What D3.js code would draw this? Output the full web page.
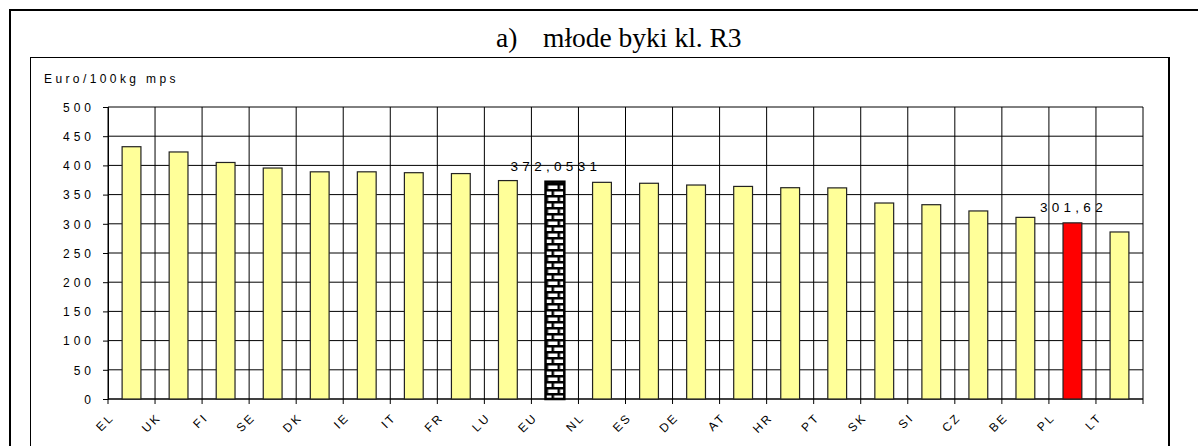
<!DOCTYPE html>
<html>
<head>
<meta charset="utf-8">
<script src="https://cdn.jsdelivr.net/npm/d3@7"></script>
<style>
  html, body { margin: 0; padding: 0; background: #fff; }
  svg { display: block; }
</style>
</head>
<body>
<svg id="chart" width="1198" height="446"></svg>
<script>
// ---- data ----
const categories = ["EL","UK","FI","SE","DK","IE","IT","FR","LU","EU","NL","ES","DE","AT","HR","PT","SK","SI","CZ","BE","PL","LT"];
const values = [432, 423, 405, 395.5, 389, 389, 387.5, 386, 374, 372.0531, 371, 369.4, 366.4, 364, 361.8, 361.5, 335.6, 332.7, 322, 311, 301.62, 286];
const yTicks = [0, 50, 100, 150, 200, 250, 300, 350, 400, 450, 500];
const labeledCategories = ["EU", "PL"];
const titlePrefix = "a)";
const titleText = "młode byki kl. R3";
const yAxisTitle = "Euro/100kg mps";

// ---- layout ----
const svg = d3.select("#chart");
const plot = { left: 108, right: 1143, top: 107, bottom: 399 };

const pad = 0.6;
const x = d3.scaleBand().domain(categories).range([plot.left, plot.right])
  .paddingInner(pad).paddingOuter(pad / 2);
const y = d3.scaleLinear().domain([0, 500]).range([plot.bottom, plot.top]);
const step = x.step();

// frames
svg.append("rect").attr("x", 10).attr("y", 10).attr("width", 1300).attr("height", 600)
  .attr("fill", "none").attr("stroke", "#000").attr("stroke-width", 2);
svg.append("rect").attr("x", 30.5).attr("y", 57.5).attr("width", 1138).attr("height", 500)
  .attr("fill", "#fff").attr("stroke", "#000").attr("stroke-width", 1);
svg.append("line").attr("x1", 1169).attr("x2", 1169).attr("y1", 57).attr("y2", 446)
  .attr("stroke", "#000").attr("stroke-width", 2);

// title
const serif = "'Liberation Serif','Times New Roman',serif";
svg.append("text").attr("x", 496).attr("y", 47)
  .attr("font-family", serif).attr("font-size", 27.5).attr("fill", "#000").text(titlePrefix);
svg.append("text").attr("x", 543).attr("y", 47)
  .attr("font-family", serif).attr("font-size", 27.5).attr("fill", "#000").text(titleText);

const sans = "'Liberation Sans',Arial,sans-serif";
// y-axis title
svg.append("text").attr("x", 44).attr("y", 83)
  .attr("font-family", sans).attr("font-size", 12)
  .attr("letter-spacing", 3.4).attr("fill", "#000").text(yAxisTitle);

// pattern for EU bar (horizontal bricks)
const defs = svg.append("defs");
const bw = x.bandwidth();
const pat = defs.append("pattern").attr("id", "brick").attr("patternUnits", "userSpaceOnUse")
  .attr("x", x("EU")).attr("y", plot.bottom).attr("width", 12).attr("height", 12);
pat.append("rect").attr("width", 12).attr("height", 12).attr("fill", "#fff");
pat.append("rect").attr("x", 0).attr("y", 0).attr("width", 12).attr("height", 2.5).attr("fill", "#000");
pat.append("rect").attr("x", 0).attr("y", 6).attr("width", 12).attr("height", 2.5).attr("fill", "#000");
pat.append("rect").attr("x", 0).attr("y", 0).attr("width", 2.5).attr("height", 6).attr("fill", "#000");
pat.append("rect").attr("x", 6).attr("y", 6).attr("width", 2.5).attr("height", 6).attr("fill", "#000");

const g = svg.append("g");

// horizontal gridlines
g.selectAll("line.hgrid").data(yTicks).join("line").attr("class", "hgrid")
  .attr("x1", plot.left).attr("x2", plot.right)
  .attr("y1", d => y(d)).attr("y2", d => y(d))
  .attr("stroke", "#000").attr("stroke-width", 1);

// vertical gridlines at category boundaries
const boundaries = categories.map(c => x(c) + bw / 2 - step / 2).concat([plot.right]);
g.selectAll("line.vgrid").data(boundaries).join("line").attr("class", "vgrid")
  .attr("x1", d => d).attr("x2", d => d)
  .attr("y1", plot.top).attr("y2", plot.bottom + 5)
  .attr("stroke", "#000").attr("stroke-width", 1);

// y axis via d3
const yAxis = d3.axisLeft(y).tickValues(yTicks).tickSize(5).tickPadding(0).tickFormat(d3.format("d"));
const ya = svg.append("g").attr("transform", `translate(${plot.left},0)`).call(yAxis);
ya.select(".domain").attr("stroke", "#000");
ya.selectAll(".tick line").attr("stroke", "#000");
ya.selectAll(".tick text")
  .attr("x", -13).attr("dy", "0.36em")
  .attr("font-family", sans).attr("font-size", 12)
  .attr("letter-spacing", 4).attr("fill", "#000").attr("text-anchor", "end");

// x axis line
g.append("line").attr("x1", plot.left).attr("x2", plot.right)
  .attr("y1", plot.bottom).attr("y2", plot.bottom).attr("stroke", "#000").attr("stroke-width", 1.2);

// x labels (rotated), anchored at left boundary of each category
svg.selectAll("text.xlab").data(categories).join("text").attr("class", "xlab")
  .attr("transform", d => `translate(${x(d) + bw / 2 - step / 2 + 7},${plot.bottom + 19}) rotate(-45)`)
  .attr("text-anchor", "end")
  .attr("font-family", sans).attr("font-size", 12)
  .attr("letter-spacing", 2.5).attr("fill", "#000")
  .text(d => d);

// bars
svg.selectAll("rect.bar").data(categories).join("rect").attr("class", "bar")
  .attr("x", d => x(d)).attr("width", bw)
  .attr("y", (d, i) => y(values[i])).attr("height", (d, i) => plot.bottom - y(values[i]))
  .attr("fill", d => d === "EU" ? "url(#brick)" : (d === "PL" ? "#FF0000" : "#FFFF99"))
  .attr("stroke", d => d === "EU" ? "#000" : "#222")
  .attr("stroke-width", d => d === "EU" ? 2.5 : 1.2);

// value labels
const fmt = v => String(v).replace(".", ",");
svg.selectAll("text.vlab").data(labeledCategories).join("text").attr("class", "vlab")
  .attr("x", d => x(d) + bw / 2 + 1)
  .attr("y", d => y(values[categories.indexOf(d)]) - 11)
  .attr("text-anchor", "middle")
  .attr("font-family", sans).attr("font-size", 13.5)
  .attr("letter-spacing", 4.3).attr("fill", "#000")
  .text(d => fmt(values[categories.indexOf(d)]));
</script>
</body>
</html>
